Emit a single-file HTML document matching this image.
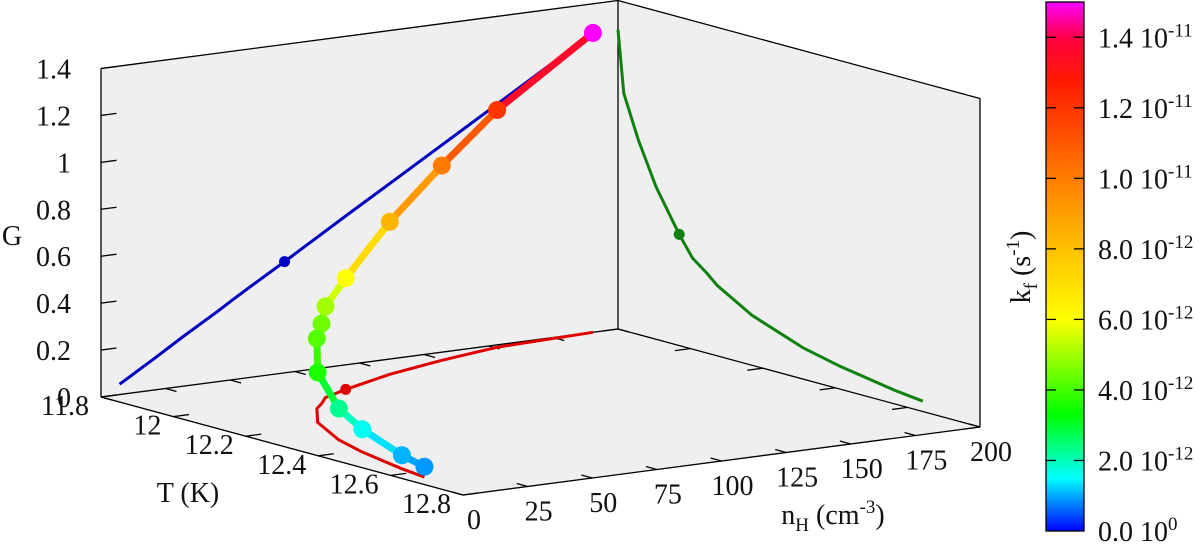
<!DOCTYPE html>
<html><head><meta charset="utf-8"><style>
html,body{margin:0;padding:0;background:#fff;}
.t{font-family:"Liberation Serif","Times New Roman","DejaVu Serif",serif;font-size:28px;}
.s{font-size:19px;}
</style></head><body>
<svg id="chart" width="1200" height="543" viewBox="0 0 1200 543" xmlns="http://www.w3.org/2000/svg">
<defs>
<linearGradient id="pal" x1="0" y1="1" x2="0" y2="0">
<stop offset="0" stop-color="#0000ff"/><stop offset="0.10" stop-color="#00ffff"/><stop offset="0.22" stop-color="#00ff00"/><stop offset="0.40" stop-color="#ffff00"/><stop offset="0.60" stop-color="#ffa000"/><stop offset="0.85" stop-color="#ff1a00"/><stop offset="0.93" stop-color="#ff0040"/><stop offset="1" stop-color="#ff00ff"/>
</linearGradient>
</defs>
<g id="walls"></g>
<g id="axes"></g>
<g id="proj"></g>
<g id="main"></g>
<g id="cb"></g>
</svg>
<script>
const Tvals=[11.80,11.816,11.856,11.905,11.969,12.006,12.045,12.075,12.17,12.31,12.414,12.565,12.642];
const nHvals=[190.3,151,124,97,71,58,51,45,32,20.6,15.1,9.3,7.2];
const Gvals=[1.276,1.011,0.830,0.650,0.474,0.388,0.341,0.299,0.213,0.134,0.097,0.058,0.044];
const kfvals=[1.5e-11,1.2e-11,1.0e-11,8.3e-12,6.0e-12,5.0e-12,4.5e-12,4.2e-12,3.6e-12,2.3e-12,1.6e-12,1.05e-12,0.9e-12];
const markIdx=4;
const gTicks=[0,0.2,0.4,0.6,0.8,1,1.2,1.4];
const gLabels=["0","0.2","0.4","0.6","0.8","1","1.2","1.4"];
const tTicks=[11.8,12.0,12.2,12.4,12.6,12.8];
const tLabels=["11.8","12","12.2","12.4","12.6","12.8"];
const nTicks=[0,25,50,75,100,125,150,175,200];
const cbTicks=[0,2e-12,4e-12,6e-12,8e-12,1e-11,1.2e-11,1.4e-11];
const cbMant=["0.0","2.0","4.0","6.0","8.0","1.0","1.2","1.4"];
const cbExp=["0","-12","-12","-12","-12","-11","-11","-11"];

const NS="http://www.w3.org/2000/svg";
const T0=11.8,T1=12.8,N1=200,G1=1.4,KMAX=1.5e-11;
function P(T,n,G){const t=(T-T0)/(T1-T0);return [101+362*t+517*n/N1,397+98*t-68*n/N1-328.5*G/G1];}
function el(tag,attrs,parent){const e=document.createElementNS(NS,tag);for(const k in attrs)e.setAttribute(k,attrs[k]);parent.appendChild(e);return e;}
const stops=[[0,[0,0,255]],[0.10,[0,255,255]],[0.22,[0,255,0]],[0.40,[255,255,0]],[0.60,[255,160,0]],[0.85,[255,26,0]],[0.93,[255,0,64]],[1,[255,0,255]]];
function col(k){let f=Math.max(0,Math.min(1,k/KMAX));for(let i=1;i<stops.length;i++){if(f<=stops[i][0]){const a=stops[i-1],b=stops[i];const u=(f-a[0])/(b[0]-a[0]);const c=a[1].map((v,j)=>Math.round(v+(b[1][j]-v)*u));return `rgb(${c[0]},${c[1]},${c[2]})`;}}return "rgb(255,0,255)";}
const walls=document.getElementById('walls'),axes=document.getElementById('axes'),proj=document.getElementById('proj'),main=document.getElementById('main'),cb=document.getElementById('cb');
const pts=a=>a.map(p=>p.join(',')).join(' ');
const A=P(T0,0,0),B=P(T0,N1,0),R=P(T1,N1,0),F=P(T1,0,0),At=P(T0,0,G1),Bt=P(T0,N1,G1),Rt=P(T1,N1,G1);
let w=el('polygon',{points:pts([A,B,R,F]),fill:'#efefef'},walls);


w=el('polygon',{points:pts([A,B,Bt,At]),fill:'#efefef'},walls);


w=el('polygon',{points:pts([B,R,Rt,Bt]),fill:'#efefef'},walls);


const edges=[[A,At],[At,Bt],[B,Bt],[Bt,Rt],[Rt,R],[A,B],[B,R],[A,F],[F,R]];
edges.forEach(e=>{const l=el('line',{x1:e[0][0],y1:e[0][1],x2:e[1][0],y2:e[1][1],stroke:'#000','stroke-width':1.3},axes);

});
function tick(p,q,parent){const l=el('line',{x1:p[0],y1:p[1],x2:q[0],y2:q[1],stroke:'#000','stroke-width':1.3},parent);

}
function text(x,y,s,anchor,parent,name){const t=el('text',{x:x,y:y,'class':'t','text-anchor':anchor,fill:'#111'},parent);t.textContent=s;

return t;}
gTicks.forEach((g,i)=>{const p=P(T0,0,g),q=P(T0,6,g);tick(p,q,axes);text(p[0]-30,p[1]+10,gLabels[i],'end',axes,'g-tick-label');});
tTicks.forEach((T,i)=>{const p=P(T,0,0),q=P(T,6,0);tick(p,q,axes);const p2=P(T,N1,0),q2=P(T,N1-6,0);tick(p2,q2,axes);text(p[0]-12,p[1]+18,tLabels[i],'end',axes,'t-tick-label');});
nTicks.forEach(n=>{const p=P(T1,n,0),q=P(T1-0.03,n,0);tick(p,q,axes);const p2=P(T0,n,0),q2=P(T0+0.03,n,0);tick(p2,q2,axes);text(p[0]+11,p[1]+34,String(n),'middle',axes,'nh-tick-label');});
text(12,245,'G','middle',axes,'g-axis-title');
text(188,502,'T (K)','middle',axes,'t-axis-title');
const nt=el('text',{x:833,y:524,'class':'t','text-anchor':'middle',fill:'#111'},axes);


nt.innerHTML='n<tspan class="s" dy="7">H</tspan><tspan dy="-7"> (cm</tspan><tspan class="s" dy="-11">-3</tspan><tspan dy="11">)</tspan>';
function projLine(getP,color,name){const ps=Tvals.map((T,i)=>getP(i));const l=el('polyline',{points:pts(ps),fill:'none',stroke:color,'stroke-width':3,'stroke-linejoin':'round'},proj);


const m=ps[markIdx];const c=el('circle',{cx:m[0],cy:m[1],r:5.5,fill:color},proj);

}
projLine(i=>P(T0,nHvals[i],Gvals[i]),'#0000c0','nh-g-projection');
projLine(i=>P(Tvals[i],N1,Gvals[i]),'#108010','t-g-projection');
projLine(i=>P(Tvals[i],nHvals[i],0),'#e00000','t-nh-projection');
const mp=Tvals.map((T,i)=>P(T,nHvals[i],Gvals[i]));
for(let i=0;i<mp.length-1;i++){const l=el('line',{x1:mp[i][0],y1:mp[i][1],x2:mp[i+1][0],y2:mp[i+1][1],stroke:col((kfvals[i]+kfvals[i+1])/2),'stroke-width':7,'stroke-linecap':'round'},main);

}
mp.forEach((p,i)=>{const c=el('circle',{cx:p[0],cy:p[1],r:9,fill:col(kfvals[i])},main);

});
const cbTop=2,cbBot=531,cbX=1046,cbW=38;
const cy=k=>cbBot-(cbBot-cbTop)*k/KMAX;
const r=el('rect',{x:cbX,y:cbTop,width:cbW,height:cbBot-cbTop,fill:'url(#pal)',stroke:'#000','stroke-width':1.3},cb);


cbTicks.forEach((k,i)=>{const y=cy(k);
if(i>0){tick([cbX,y],[cbX+10,y],cb);tick([cbX+cbW-10,y],[cbX+cbW,y],cb);}
const t=el('text',{x:1098,y:y+10,'class':'t',fill:'#111'},cb);


t.innerHTML=cbMant[i]+' 10<tspan class="s" dy="-11">'+cbExp[i]+'</tspan>';});
const ct=el('text',{x:0,y:0,'class':'t','text-anchor':'middle',fill:'#111',transform:'translate(1030,267) rotate(-90)'},cb);


ct.innerHTML='k<tspan class="s" dy="7">f</tspan><tspan dy="-7"> (s</tspan><tspan class="s" dy="-11">-1</tspan><tspan dy="11">)</tspan>';
</script>
</body></html>
